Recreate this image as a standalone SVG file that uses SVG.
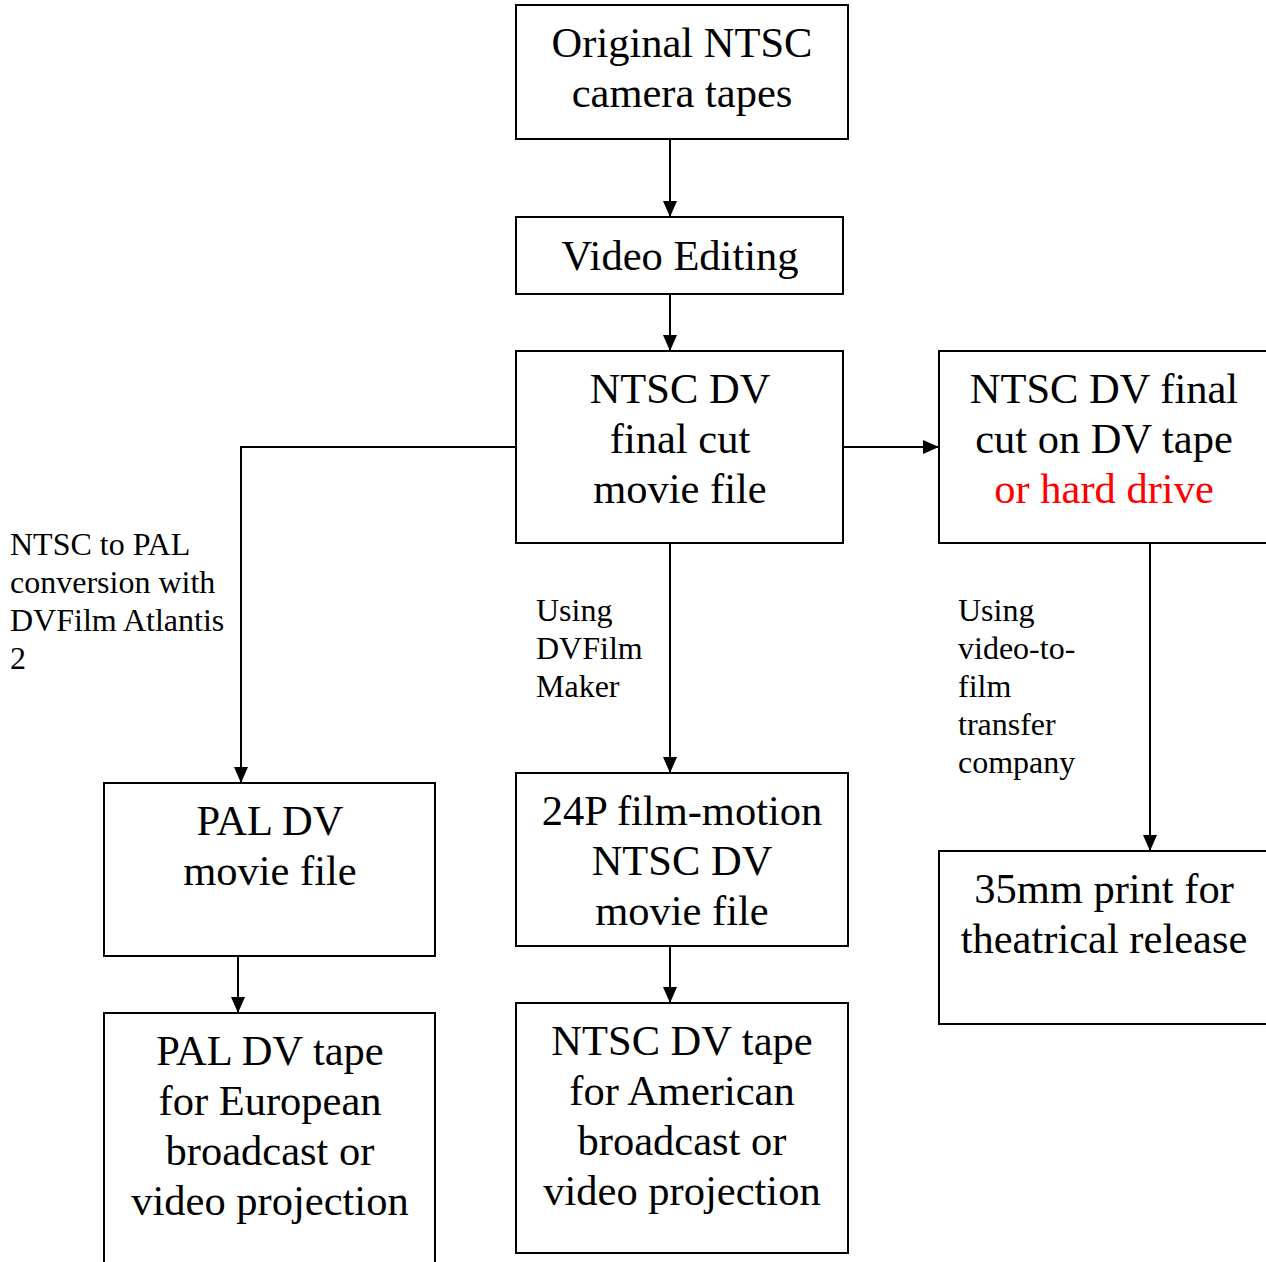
<svg xmlns="http://www.w3.org/2000/svg" width="1266" height="1262" viewBox="0 0 1266 1262">
<style>
.box{fill:#fff;stroke:#000;stroke-width:2}
.t{font-family:"Liberation Serif","Times New Roman",serif;font-size:42.5px;fill:#000;text-anchor:middle}
.s{font-family:"Liberation Serif","Times New Roman",serif;font-size:32px;fill:#000}
.red{fill:#ff0000}
.c{fill:none;stroke:#000;stroke-width:2}
</style>
<defs>
<marker id="ah" markerUnits="userSpaceOnUse" markerWidth="16" markerHeight="14" refX="16" refY="7" orient="auto">
<path d="M0,0 L16,7 L0,14 z" fill="#000"/>
</marker>
</defs>
<rect width="1266" height="1262" fill="#fff"/>
<g id="connectors">
<path class="c" d="M670,139 V217" marker-end="url(#ah)"/>
<path class="c" d="M670,294 V351" marker-end="url(#ah)"/>
<path class="c" d="M843,447 H939" marker-end="url(#ah)"/>
<path class="c" d="M516,447 H241 V783" marker-end="url(#ah)"/>
<path class="c" d="M670,543 V773" marker-end="url(#ah)"/>
<path class="c" d="M670,946 V1003" marker-end="url(#ah)"/>
<path class="c" d="M238,956 V1013" marker-end="url(#ah)"/>
<path class="c" d="M1150,543 V851" marker-end="url(#ah)"/>
</g>
<g id="labels">
<text class="s" x="10" y="555">NTSC to PAL</text>
<text class="s" x="10" y="593">conversion with</text>
<text class="s" x="10" y="631">DVFilm Atlantis</text>
<text class="s" x="10" y="669">2</text>
<text class="s" x="536" y="621">Using</text>
<text class="s" x="536" y="659">DVFilm</text>
<text class="s" x="536" y="697">Maker</text>
<text class="s" x="958" y="621">Using</text>
<text class="s" x="958" y="659">video-to-</text>
<text class="s" x="958" y="697">film</text>
<text class="s" x="958" y="735">transfer</text>
<text class="s" x="958" y="773">company</text>
</g>
<g id="n1">
<rect class="box" x="516" y="5" width="332" height="134"/>
<text class="t" x="682" y="57">Original NTSC</text>
<text class="t" x="682" y="107">camera tapes</text>
</g>
<g id="n2">
<rect class="box" x="516" y="217" width="327" height="77"/>
<text class="t" x="680" y="270">Video Editing</text>
</g>
<g id="n3">
<rect class="box" x="516" y="351" width="327" height="192"/>
<text class="t" x="680" y="403">NTSC DV</text>
<text class="t" x="680" y="453">final cut</text>
<text class="t" x="680" y="503">movie file</text>
</g>
<g id="n4">
<rect class="box" x="939" y="351" width="340" height="192"/>
<text class="t" x="1104" y="403">NTSC DV final</text>
<text class="t" x="1104" y="453">cut on DV tape</text>
<text class="t red" x="1104" y="503">or hard drive</text>
</g>
<g id="n5">
<rect class="box" x="104" y="783" width="331" height="173"/>
<text class="t" x="270" y="835">PAL DV</text>
<text class="t" x="270" y="885">movie file</text>
</g>
<g id="n6">
<rect class="box" x="104" y="1013" width="331" height="270"/>
<text class="t" x="270" y="1065">PAL DV tape</text>
<text class="t" x="270" y="1115">for European</text>
<text class="t" x="270" y="1165">broadcast or</text>
<text class="t" x="270" y="1215">video projection</text>
</g>
<g id="n7">
<rect class="box" x="516" y="773" width="332" height="173"/>
<text class="t" x="682" y="825">24P film-motion</text>
<text class="t" x="682" y="875">NTSC DV</text>
<text class="t" x="682" y="925">movie file</text>
</g>
<g id="n8">
<rect class="box" x="516" y="1003" width="332" height="250"/>
<text class="t" x="682" y="1055">NTSC DV tape</text>
<text class="t" x="682" y="1105">for American</text>
<text class="t" x="682" y="1155">broadcast or</text>
<text class="t" x="682" y="1205">video projection</text>
</g>
<g id="n9">
<rect class="box" x="939" y="851" width="340" height="173"/>
<text class="t" x="1104" y="903">35mm print for</text>
<text class="t" x="1104" y="953">theatrical release</text>
</g>
</svg>
